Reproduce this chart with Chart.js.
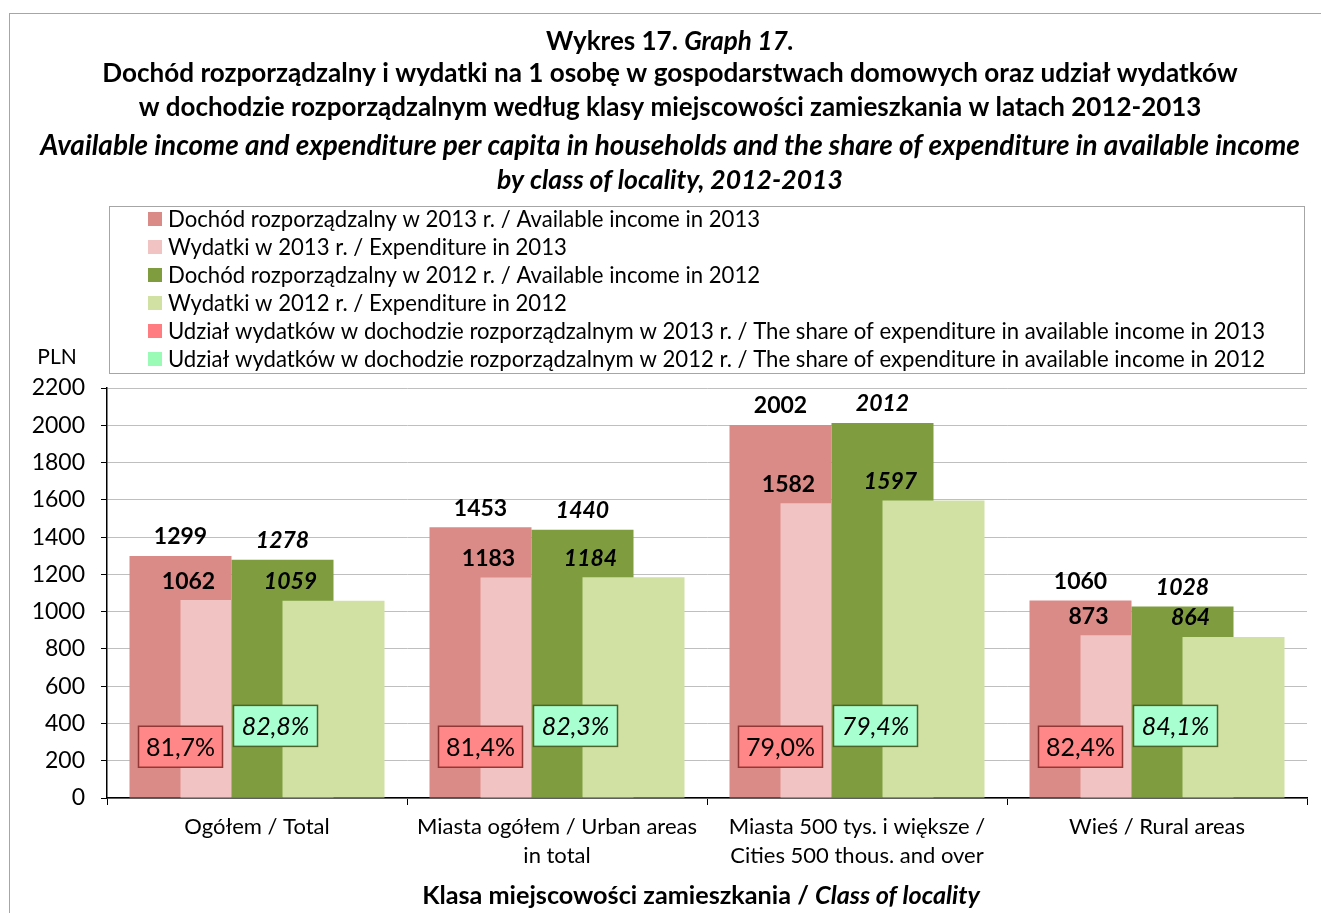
<!DOCTYPE html>
<html>
<head>
<meta charset="utf-8">
<script src="https://cdn.jsdelivr.net/npm/chart.js@4.4.1/dist/chart.umd.min.js"></script>
<style>
html,body{margin:0;padding:0;background:#fff;}
#wrap{width:1321px;height:913px;position:relative;}
</style>
</head>
<body>
<div id="wrap"><canvas id="c" width="1321" height="913"></canvas></div>
<script>
// ---------- DATA ----------
const categories = [
  ["Ogółem / Total"],
  ["Miasta ogółem / Urban areas", "in total"],
  ["Miasta 500 tys. i większe /", "Cities 500 thous. and over"],
  ["Wieś / Rural areas"]
];
const income2013 = [1299, 1453, 2002, 1060];
const expenditure2013 = [1062, 1183, 1582, 873];
const income2012 = [1278, 1440, 2012, 1028];
const expenditure2012 = [1059, 1184, 1597, 864];
const share2013 = [81.7, 81.4, 79.0, 82.4];
const share2012 = [82.8, 82.3, 79.4, 84.1];
const seriesLabels = [
  "Dochód rozporządzalny w 2013 r. / Available income in 2013",
  "Wydatki w 2013 r. / Expenditure in 2013",
  "Dochód rozporządzalny w 2012 r. / Available income in 2012",
  "Wydatki w 2012 r. / Expenditure in 2012",
  "Udział wydatków w dochodzie rozporządzalnym w 2013 r. / The share of expenditure in available income in 2013",
  "Udział wydatków w dochodzie rozporządzalnym w 2012 r. / The share of expenditure in available income in 2012"
];
const yMin = 0, yMax = 2200, yStep = 200;
const titleLines = [
  [["Wykres 17. ", false], ["Graph 17.", true]],
  [["Dochód rozporządzalny i wydatki na 1 osobę w gospodarstwach domowych oraz udział wydatków", false]],
  [["w dochodzie rozporządzalnym według klasy miejscowości zamieszkania w latach 2012-2013", false]],
  [["Available income and expenditure per capita in households and the share of expenditure in available income", true]],
  [["by class of locality, 2012-2013", true]]
];
const axisTitle = [["Klasa miejscowości zamieszkania / ", false], ["Class of locality", true]];
const unitLabel = "PLN";

// ---------- STYLE ----------
const FONT = "Lato, 'Open Sans', sans-serif";
const colors = ['#DA8A87', '#F2C3C3', '#7F9D3F', '#D0E1A3', '#FF7C80', '#99FBB5'];

function fontStr(size, bold, italic) {
  return (italic ? 'italic ' : '') + (bold ? 'bold ' : '') + size + 'px ' + FONT;
}
function fitSize(ctx, parts, bold, target) {
  let w = 0;
  parts.forEach(p => { ctx.font = fontStr(20, bold, p[1]); w += ctx.measureText(p[0]).width; });
  return 20 * target / w;
}
function drawParts(ctx, parts, bold, size, cx, cy) {
  let total = 0;
  const ws = parts.map(p => { ctx.font = fontStr(size, bold, p[1]); const w = ctx.measureText(p[0]).width; total += w; return w; });
  let x = cx - total / 2;
  ctx.textAlign = 'left'; ctx.textBaseline = 'middle';
  parts.forEach((p, i) => { ctx.font = fontStr(size, bold, p[1]); ctx.fillText(p[0], x, cy); x += ws[i]; });
}
function fmtPct(v) { return v.toFixed(1).replace('.', ',') + '%'; }

const decor = {
  id: 'decor',
  beforeDraw(chart) {
    const ctx = chart.ctx;
    ctx.save();
    ctx.fillStyle = '#fff';
    ctx.fillRect(0, 0, chart.width, chart.height);
    ctx.strokeStyle = '#A6A6A6'; ctx.lineWidth = 1;
    ctx.strokeRect(9.5, 13.5, 1400, 1000);
    ctx.restore();
  },
  beforeDatasetsDraw(chart) {
    const ctx = chart.ctx;
    const ys = chart.scales.y;
    // draw bar series in index order so later series overlap earlier ones
    for (let d = 0; d < 4; d++) {
      chart.getDatasetMeta(d).controller.draw();
    }
    ctx.save();
    ctx.fillStyle = '#000';
    ctx.textAlign = 'center'; ctx.textBaseline = 'middle';
    // value labels
    const dsVals = [income2013, expenditure2013, income2012, expenditure2012];
    for (let d = 0; d < 4; d++) {
      const meta = chart.getDatasetMeta(d);
      const italic = d >= 2;
      const isExp = d % 2 === 1;
      meta.data.forEach((bar, j) => {
        ctx.font = fontStr(23, true, italic);
        const x = isExp ? bar.x - 43 : bar.x;
        ctx.fillText(String(dsVals[d][j]), x, bar.y - 19);
      });
    }
    // share boxes
    const m13 = chart.getDatasetMeta(0), m12 = chart.getDatasetMeta(2);
    const boxes = [
      {vals: share2013, meta: m13, dx: 0, yv: 275, fill: '#FF8787', stroke: '#953735', italic: false},
      {vals: share2012, meta: m12, dx: -7, yv: 387, fill: '#A8FFD0', stroke: '#4F6228', italic: true}
    ];
    boxes.forEach(b => {
      b.vals.forEach((v, j) => {
        const cx = b.meta.data[j].x + b.dx;
        const cy = ys.getPixelForValue(b.yv);
        const bw = 84, bh = 41;
        ctx.fillStyle = b.fill;
        ctx.fillRect(cx - bw / 2, cy - bh / 2, bw, bh);
        ctx.strokeStyle = b.stroke; ctx.lineWidth = 1.5;
        ctx.strokeRect(cx - bw / 2, cy - bh / 2, bw, bh);
        ctx.fillStyle = '#000';
        ctx.font = fontStr(25, false, b.italic);
        ctx.textAlign = 'center'; ctx.textBaseline = 'middle';
        ctx.fillText(fmtPct(v), cx, cy + 1);
      });
    });
    ctx.restore();
    return false;
  },
  afterDraw(chart) {
    const ctx = chart.ctx;
    ctx.save();
    ctx.fillStyle = '#000';
    // titles
    const tY = [42, 74, 108, 146, 180];
    const tW = [248, 1136, 1063, 1260, 346];
    titleLines.forEach((parts, i) => {
      const s = fitSize(ctx, parts, true, tW[i]);
      drawParts(ctx, parts, true, s, 670, tY[i]);
    });
    // legend
    ctx.strokeStyle = '#A6A6A6'; ctx.lineWidth = 1;
    ctx.strokeRect(109.5, 206.5, 1195, 167);
    const ls = fitSize(ctx, [[seriesLabels[4], false]], false, 1098);
    const ds = chart.data.datasets;
    ds.forEach((d, i) => {
      const cy = 219 + i * 28;
      ctx.fillStyle = d.backgroundColor;
      ctx.fillRect(148, cy - 7, 14, 14);
      ctx.fillStyle = '#000';
      ctx.font = fontStr(ls, false, false);
      ctx.textAlign = 'left'; ctx.textBaseline = 'middle';
      ctx.fillText(d.label, 168, cy + 1);
    });
    // unit
    ctx.font = fontStr(21, false, false);
    ctx.textAlign = 'center'; ctx.textBaseline = 'middle';
    ctx.fillText(unitLabel, 57, 357);
    // axis title
    const as = fitSize(ctx, axisTitle, true, 558);
    drawParts(ctx, axisTitle, true, as, 701, 896);
    ctx.restore();
  }
};

const chart = new Chart(document.getElementById('c'), {
  type: 'bar',
  data: {
    labels: categories,
    datasets: [
      {label: seriesLabels[0], data: income2013, backgroundColor: colors[0]},
      {label: seriesLabels[1], data: expenditure2013, backgroundColor: colors[1]},
      {label: seriesLabels[2], data: income2012, backgroundColor: colors[2]},
      {label: seriesLabels[3], data: expenditure2012, backgroundColor: colors[3]},
      {type: 'line', label: seriesLabels[4], data: share2013, yAxisID: 'y2', showLine: false, pointRadius: 0,
       backgroundColor: colors[4], borderColor: colors[4]},
      {type: 'line', label: seriesLabels[5], data: share2012, yAxisID: 'y2', showLine: false, pointRadius: 0,
       backgroundColor: colors[5], borderColor: colors[5]}
    ]
  },
  options: {
    responsive: false,
    animation: false,
    devicePixelRatio: 1,
    layout: {padding: {left: 0, top: 388, right: 14, bottom: 45}},
    plugins: {legend: {display: false}, title: {display: false}, tooltip: {enabled: false}},
    datasets: {bar: {categoryPercentage: 0.68, barPercentage: 2, borderWidth: 0}},
    scales: {
      x: {
        grid: {display: true, drawOnChartArea: false, drawTicks: true, tickLength: 7, tickColor: '#000', offset: true},
        border: {color: '#000', width: 1.5},
        ticks: {font: {family: FONT, size: 22, lineHeight: 1.3}, color: '#000', padding: 8, maxRotation: 0, autoSkip: false},
        afterFit(s) { s.height = 70; }
      },
      y: {
        min: yMin, max: yMax,
        ticks: {stepSize: yStep, font: {family: FONT, size: 23}, color: '#000', padding: 16,
                callback: v => String(v)},
        grid: {color: '#BFBFBF', tickColor: '#000', tickLength: 6, lineWidth: 1},
        border: {color: '#000', width: 1.5},
        afterFit(s) { s.width = 107; }
      },
      y2: {display: false, min: 0, max: 100}
    }
  },
  plugins: [decor]
});
</script>
</body>
</html>
